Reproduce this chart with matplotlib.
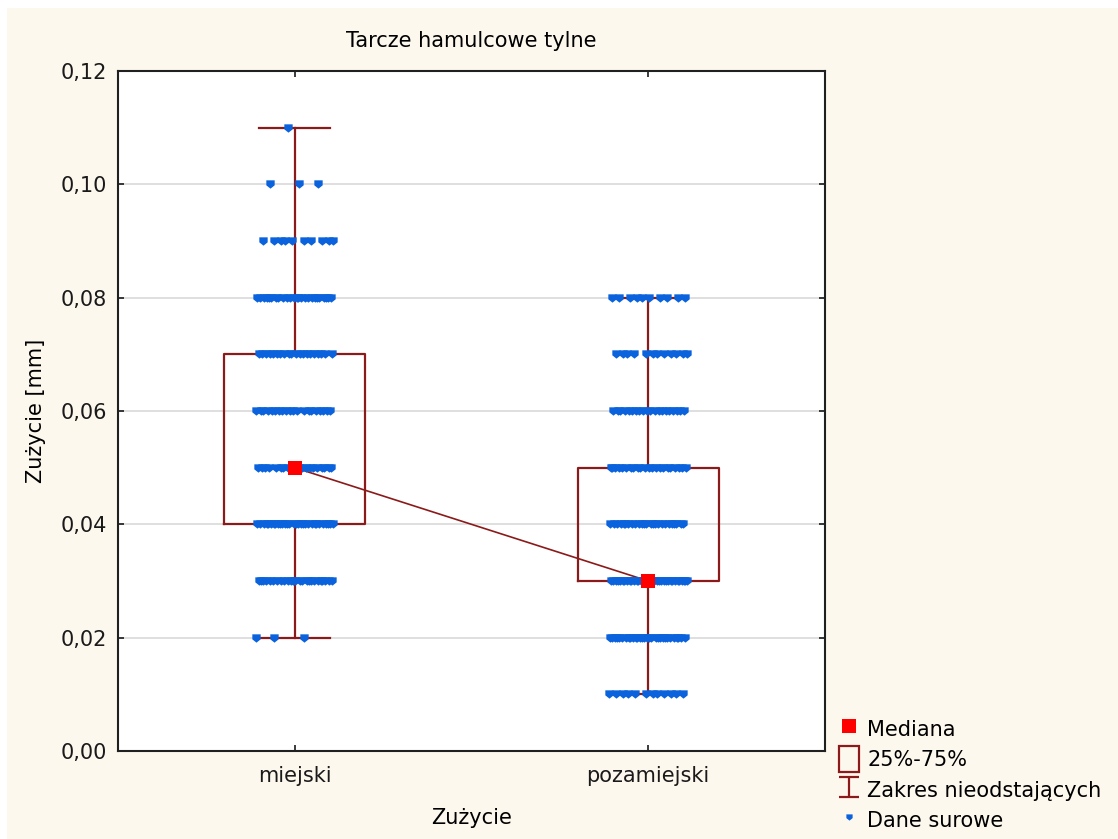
import numpy as np
import matplotlib.pyplot as plt
from matplotlib.lines import Line2D
from matplotlib.patches import Patch, Rectangle
from matplotlib.path import Path
from matplotlib.ticker import FuncFormatter

plt.rcParams['font.family'] = ['DejaVu Sans']

# data
groups = ["miejski", "pozamiejski"]
levels_m = [0.02, 0.03, 0.04, 0.05, 0.06, 0.07, 0.08, 0.09, 0.10, 0.11]
counts_m = [3, 25, 30, 20, 20, 20, 25, 10, 3, 1]
levels_p = [0.01, 0.02, 0.03, 0.04, 0.05, 0.06, 0.07, 0.08]
counts_p = [12, 30, 35, 25, 22, 20, 12, 10]

medians = [0.05, 0.03]
q1 = [0.04, 0.03]
q3 = [0.07, 0.05]
whislo = [0.02, 0.01]
whishi = [0.11, 0.08]

box_col = "#8B1A1A"
pt_col = "#0A62DC"
bg_col = "#FDF8EE"

fig = plt.figure(figsize=(11.18, 8.39), dpi=100)
fig.patch.set_facecolor("white")
fig.patches.append(Rectangle((7 / 1118, 0), 1, 1 - 8 / 839, transform=fig.transFigure,
                             facecolor=bg_col, edgecolor="none", zorder=-10))
ax = fig.add_axes([118 / 1118, 1 - 751 / 839, 707 / 1118, 680 / 839])
ax.set_facecolor("white")

pos = [1, 2]
stats = []
for i in range(2):
    stats.append(dict(med=medians[i], q1=q1[i], q3=q3[i], whislo=whislo[i], whishi=whishi[i], fliers=[]))
ax.bxp(stats, positions=pos, widths=0.4, showfliers=False, capwidths=0.2,
       boxprops=dict(color=box_col, linewidth=1.6),
       whiskerprops=dict(color=box_col, linewidth=1.6),
       capprops=dict(color=box_col, linewidth=1.6),
       medianprops=dict(linewidth=0), manage_ticks=False, zorder=2)

# raw points with deterministic jitter
shield = Path([(-1, 1), (1, 1), (1, -0.2), (0, -1), (-1, -0.2), (-1, 1)],
              [Path.MOVETO, Path.LINETO, Path.LINETO, Path.LINETO, Path.LINETO, Path.CLOSEPOLY])
for p, levels, counts in [(1, levels_m, counts_m), (2, levels_p, counts_p)]:
    vals = np.repeat(levels, counts)
    idx = np.arange(len(vals))
    off = ((idx * 0.6180339887) % 1.0 - 0.5) * 0.22
    ax.plot(p + off, vals, linestyle="none", marker=shield, markersize=6,
            color=pt_col, markeredgewidth=0, zorder=4)

ax.plot(pos, medians, color=box_col, linewidth=1.2, zorder=3)
ax.plot(pos, medians, linestyle="none", marker="s", markersize=10,
        color="#FF0000", markeredgewidth=0, zorder=5)

ax.set_xlim(0.5, 2.5)
ax.set_ylim(0, 0.12)
ax.set_xticks(pos)
ax.set_xticklabels(groups)
ax.set_yticks(np.arange(0, 0.121, 0.02))
ax.yaxis.set_major_formatter(FuncFormatter(lambda v, _: f"{v:.2f}".replace(".", ",")))
ax.grid(axis="y", color="#D9D9D9", linewidth=1.2, zorder=0)
ax.set_axisbelow(True)
ax.tick_params(direction="in", length=4, width=1.2, top=True, right=True,
               labelsize=15, colors="#1a1a1a")
ax.tick_params(axis="y", pad=8)
ax.tick_params(axis="x", pad=11)
for s in ax.spines.values():
    s.set_linewidth(1.5)
    s.set_color("#202020")

ax.set_title("Tarcze hamulcowe tylne", fontsize=15, pad=17)
ax.set_xlabel("Zużycie", fontsize=15, labelpad=16)
ax.set_ylabel("Zużycie [mm]", fontsize=15, labelpad=10)

cap = Path([(-1, 1), (1, 1), (0, 1), (0, -1), (-1, -1), (1, -1)],
           [Path.MOVETO, Path.LINETO, Path.MOVETO, Path.LINETO, Path.MOVETO, Path.LINETO])
handles = [
    Line2D([], [], linestyle="none", marker="s", markersize=10, color="#FF0000", markeredgewidth=0),
    Patch(facecolor="none", edgecolor=box_col, linewidth=1.6),
    Line2D([], [], linestyle="none", marker=cap, markersize=15, markerfacecolor="none",
           markeredgecolor=box_col, markeredgewidth=1.6),
    Line2D([], [], linestyle="none", marker=shield, markersize=4.5, color=pt_col, markeredgewidth=0),
]
labels = ["Mediana", "25%-75%", "Zakres nieodstających", "Dane surowe"]
fig.legend(handles, labels, loc="lower left", bbox_to_anchor=(839 / 1118, 6 / 839),
           frameon=False, fontsize=15, handlelength=0.95, handleheight=1.55,
           handletextpad=0.4, labelspacing=0.2, borderaxespad=0, borderpad=0)

fig.savefig("out.png", dpi=100, facecolor=fig.get_facecolor())
